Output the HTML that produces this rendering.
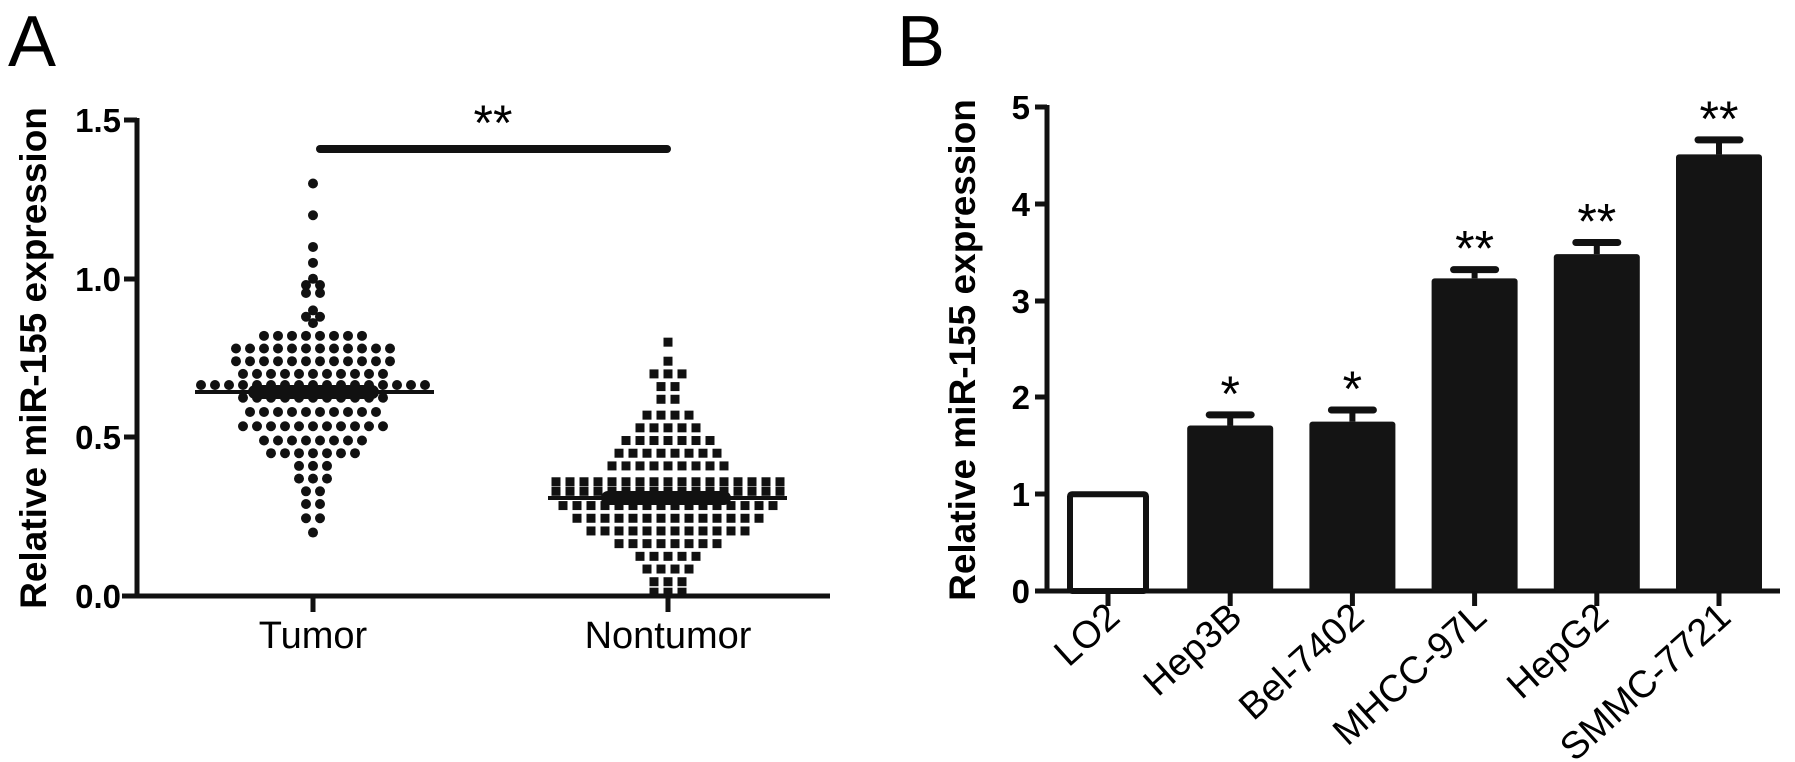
<!DOCTYPE html>
<html><head><meta charset="utf-8"><style>
html,body{margin:0;padding:0;background:#fff;}
svg{display:block;font-family:"Liberation Sans",Arial,sans-serif;}
</style></head><body>
<svg id="s" width="1795" height="762" viewBox="0 0 1795 762" xmlns="http://www.w3.org/2000/svg">
<rect width="1795" height="762" fill="#fff"/>
<!-- Panel A -->
<text x="8" y="66" font-size="72">A</text>
<text transform="translate(46,358) rotate(-90)" font-size="37" font-weight="bold" text-anchor="middle">Relative miR-155 expression</text>
<g stroke="#111" stroke-width="5" fill="none">
<line x1="137" y1="118" x2="137" y2="598"/>
<line x1="122" y1="596" x2="830" y2="596"/>
<line x1="124" y1="120" x2="137" y2="120"/>
<line x1="124" y1="279" x2="137" y2="279"/>
<line x1="124" y1="437" x2="137" y2="437"/>
<line x1="313" y1="596" x2="313" y2="612"/>
<line x1="668" y1="596" x2="668" y2="612"/>
</g>
<g font-size="33" font-weight="bold" text-anchor="end">
<text x="121" y="132">1.5</text>
<text x="121" y="291">1.0</text>
<text x="121" y="449">0.5</text>
<text x="121" y="608">0.0</text>
</g>
<g font-size="38" text-anchor="middle">
<text x="313" y="648">Tumor</text>
<text x="668" y="648">Nontumor</text>
</g>
<line x1="320" y1="149" x2="667" y2="149" stroke="#111" stroke-width="8" stroke-linecap="round"/>
<text x="493" y="140" font-size="50" text-anchor="middle">**</text>
<g id="dots" fill="#111"></g>
<line x1="195" y1="392" x2="434" y2="392" stroke="#111" stroke-width="4"/>
<line x1="255" y1="392" x2="372" y2="392" stroke="#111" stroke-width="14" stroke-linecap="round"/>
<line x1="548" y1="498" x2="787" y2="498" stroke="#111" stroke-width="4"/>
<line x1="608" y1="498" x2="724" y2="498" stroke="#111" stroke-width="14" stroke-linecap="round"/>

<!-- Panel B -->
<text x="897" y="66" font-size="72">B</text>
<text transform="translate(975,350) rotate(-90)" font-size="37" font-weight="bold" text-anchor="middle">Relative miR-155 expression</text>
<g stroke="#111" stroke-width="5" fill="none">
<line x1="1047" y1="105" x2="1047" y2="593"/>
<line x1="1035" y1="591" x2="1780" y2="591"/>
<line x1="1035" y1="107" x2="1047" y2="107"/>
<line x1="1035" y1="204" x2="1047" y2="204"/>
<line x1="1035" y1="301" x2="1047" y2="301"/>
<line x1="1035" y1="397" x2="1047" y2="397"/>
<line x1="1035" y1="494" x2="1047" y2="494"/>
</g>
<g font-size="33" font-weight="bold" text-anchor="end">
<text x="1030" y="119">5</text>
<text x="1030" y="216">4</text>
<text x="1030" y="313">3</text>
<text x="1030" y="409">2</text>
<text x="1030" y="506">1</text>
<text x="1030" y="603">0</text>
</g>
<g id="bars"></g>
</svg>
<script>
(function(){
var NS="http://www.w3.org/2000/svg";
function el(p,t,a){var e=document.createElementNS(NS,t);for(var k in a)e.setAttribute(k,a[k]);p.appendChild(e);return e;}
var d=document.getElementById("dots");
function Y(v){return 596-v*317.3;}
var tum=[[1.3,1],[1.2,1],[1.1,1],[1.05,1],[1.0,1],[0.98,2],[0.955,2],[0.9,1],[0.88,2],[0.86,1],[0.82,8],[0.78,12],[0.74,12],[0.70,11],[0.665,17],[0.625,11],[0.58,10],[0.535,11],[0.49,8],[0.45,7],[0.41,3],[0.37,3],[0.33,2],[0.29,2],[0.245,2],[0.2,1]];
tum.forEach(function(r,i){var n=r[1];for(var j=0;j<n;j++){var x=313+(j-(n-1)/2)*14;el(d,"circle",{cx:x,cy:Y(r[0]),r:5});}});
var non=[[0.8,1],[0.74,1],[0.7,3],[0.66,2],[0.62,2],[0.57,4],[0.53,5],[0.49,7],[0.45,8],[0.41,9],[0.36,17],[0.33,17],[0.285,16],[0.245,14],[0.205,12],[0.165,8],[0.125,5],[0.085,4],[0.045,3],[0.012,3]];
non.forEach(function(r){var n=r[1];for(var j=0;j<n;j++){var x=668+(j-(n-1)/2)*14;el(d,"rect",{x:x-4.5,y:Y(r[0])-4.5,width:9,height:9});}});
var b=document.getElementById("bars");
function YB(v){return 591-v*96.8;}
var data=[["LO2",1,0],["Hep3B",1.71,1.82,"*"],["Bel-7402",1.75,1.87,"*"],["MHCC-97L",3.23,3.32,"**"],["HepG2",3.48,3.6,"**"],["SMMC-7721",4.51,4.66,"**"]];
data.forEach(function(r,i){
 var cx=1108+i*122.2;
 if(i==0){el(b,"rect",{x:cx-38,y:YB(1),width:76,height:591-YB(1),fill:"#fff",stroke:"#111","stroke-width":6,rx:2});}
 else{
  var ty=YB(r[2]);
  el(b,"line",{x1:cx,y1:ty,x2:cx,y2:YB(r[1]),stroke:"#111","stroke-width":6});
  el(b,"line",{x1:cx-21,y1:ty,x2:cx+21,y2:ty,stroke:"#111","stroke-width":7,"stroke-linecap":"round"});
  el(b,"rect",{x:cx-43,y:YB(r[1]),width:86,height:591-YB(r[1]),fill:"#141414",rx:3});
  var t=el(b,"text",{x:cx,y:ty-4,"font-size":50,"text-anchor":"middle"});t.textContent=r[3];
 }
 el(b,"line",{x1:cx,y1:591,x2:cx,y2:606,stroke:"#111","stroke-width":5});
 var lt=el(b,"text",{transform:"translate("+(cx+14)+",620) rotate(-42)","font-size":38,"text-anchor":"end"});lt.textContent=r[0];
});
})();
</script>
</body></html>
